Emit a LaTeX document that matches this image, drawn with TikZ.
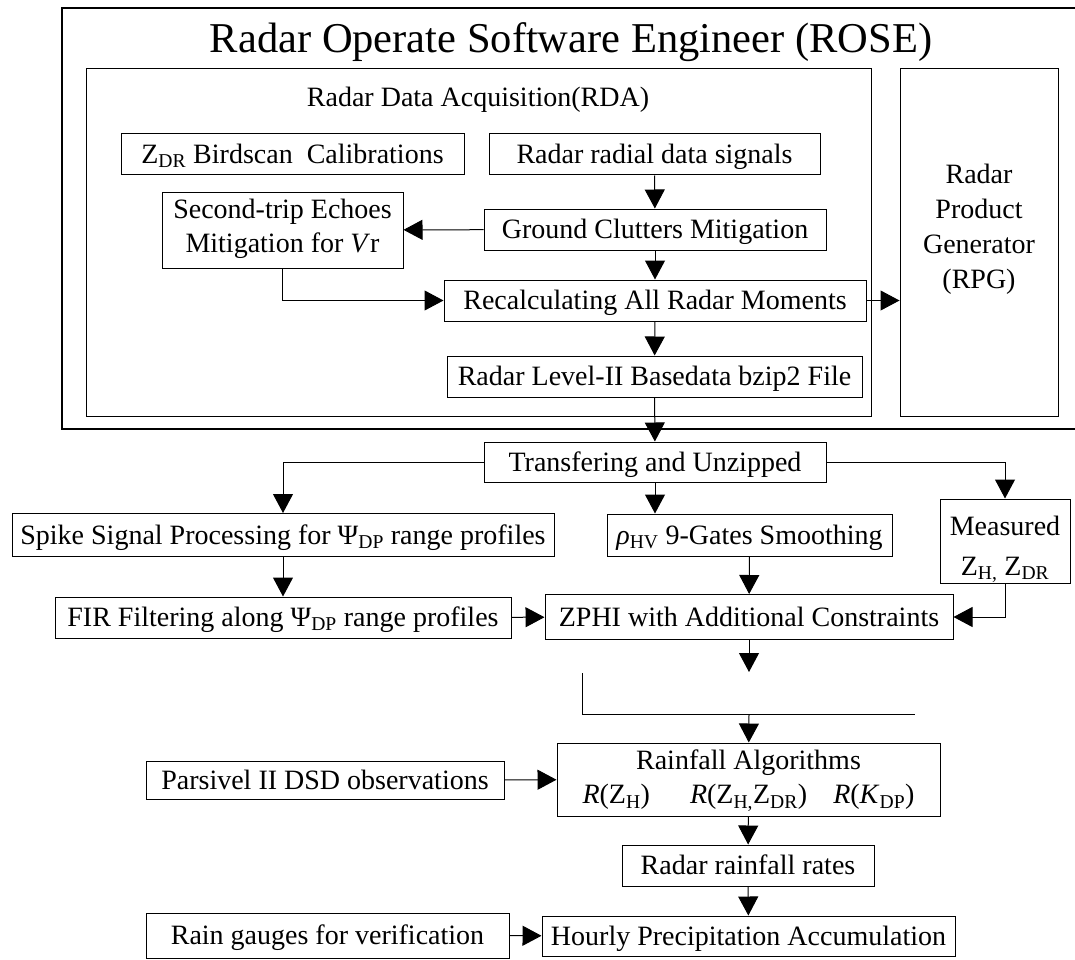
\documentclass[tikz,border=0pt]{standalone}
\usepackage{fontspec}
\setmainfont{Liberation Serif}
\usetikzlibrary{arrows.meta}

% fixed line height so that every box centres its caps
\newcommand{\rowstrut}{\rule[-8pt]{0pt}{34pt}}

\begin{document}
\begin{tikzpicture}[x=1pt,y=-1pt,>={Triangle[length=19pt,width=20pt]},
  txt/.style={inner sep=0pt,align=center,font=\fontsize{28}{34.5}\selectfont,
    execute at begin node=\rowstrut,execute at end node=\rowstrut},
  blk/.style={txt,draw,line width=1pt},
  link/.style={line width=1pt,->}]
  \useasboundingbox (0,0) rectangle (1075,960);
  % ROSE frame with the RDA and RPG panels
  \draw[line width=1.2pt] (1090,8) -- (62,8) -- (62,429) -- (1090,429);
  \node[inner sep=0pt,font=\fontsize{42.5}{50}\selectfont] (rose) at (571,42) {Radar Operate Software Engineer (ROSE)};
  \draw[line width=1pt] (86,69) rectangle (871,416);
  \node[txt] (rda) at (478,98) {Radar Data Acquisition(RDA)};
  \node[draw,line width=1pt,minimum width=158,minimum height=347] (rpg) at (979,242.5) {};
  \node[txt,font=\fontsize{28}{35}\selectfont] at (979,230) {Radar\\Product\\Generator\\(RPG)};

  % blocks inside RDA
  \node[blk,minimum width=343,minimum height=41] (zdr) at (292.5,154.5) {Z\textsubscript{DR} Birdscan~~Calibrations};
  \node[blk,minimum width=331,minimum height=41] (radial) at (654.5,154.5) {Radar radial data signals};
  \node[blk,minimum width=241,minimum height=76] (second) at (282.5,230) {Second-trip Echoes\\Mitigation for \textit{V}r};
  \node[blk,minimum width=342,minimum height=41] (ground) at (655,229.5) {Ground Clutters Mitigation};
  \node[blk,minimum width=422,minimum height=41] (recalc) at (655,300.5) {Recalculating All Radar Moments};
  \node[blk,minimum width=415,minimum height=41] (level) at (654.5,376.5) {Radar Level-II Basedata bzip2 File};

  % processing chain
  \node[blk,minimum width=342,minimum height=40] (unzip) at (655,462) {Transfering and Unzipped};
  \node[blk,minimum width=542,minimum height=43] (spike) at (283,535) {Spike Signal Processing for Ψ\textsubscript{DP} range profiles};
  \node[blk,minimum width=285,minimum height=42] (rho) at (749.5,535) {\textit{ρ}\textsubscript{HV} 9-Gates Smoothing};
  \node[blk,minimum width=130,minimum height=84] (meas) at (1005,541) {\rule{0pt}{36pt}Measured\\[5.5pt]Z\textsubscript{H,} Z\textsubscript{DR}};
  \node[blk,minimum width=456,minimum height=41] (fir) at (283,617.5) {FIR Filtering along Ψ\textsubscript{DP} range profiles};
  \node[blk,minimum width=408,minimum height=45] (zphi) at (749,617) {ZPHI with Additional Constraints};
  \node[blk,minimum width=383,minimum height=73] (rain) at (748.5,779.5) {\rule{0pt}{22pt}Rainfall Algorithms\\
    \textit{R}(Z\textsubscript{H})\hspace{40pt}\textit{R}(Z\textsubscript{H,}Z\textsubscript{DR})\hspace{26pt}\textit{R}(\textit{K}\textsubscript{DP})};
  \node[blk,minimum width=358,minimum height=38] (dsd) at (325,780) {Parsivel II DSD observations};
  \node[blk,minimum width=252,minimum height=41] (rates) at (748,865.5) {Radar rainfall rates};
  \node[blk,minimum width=413,minimum height=40] (hourly) at (748.5,936) {Hourly Precipitation Accumulation};
  \node[blk,minimum width=363,minimum height=45] (gauge) at (327.5,935.5) {Rain gauges for verification};

  \coordinate (zend) at (749,672);
  \coordinate (rtop) at (749,714);

  % connectors
  \draw[link] (radial) -- (ground);
  \draw[link] (ground) -- (second);
  \draw[link] (ground) -- (recalc);
  \draw[link] (second.south) |- (recalc.west);
  \draw[link] (recalc.east) -- (recalc.east -| rpg.west);
  \draw[link] (recalc) -- (level);
  \draw[link] (level) -- (unzip);
  \draw[link] (unzip.west) -| (spike.north);
  \draw[link] (unzip.east) -| (meas.north);
  \draw[link] (unzip.south) -- (unzip.south |- rho.north);
  \draw[link] (spike) -- (fir);
  \draw[link] (rho) -- (zphi);
  \draw[link] (fir) -- (zphi);
  \draw[link] (meas.south) |- (zphi.east);
  \draw[link] (zphi) -- (zend);
  \draw[line width=1pt] (582,673) -- (582,714) -- (915,714);
  \draw[link] (rtop) -- (rain);
  \draw[link] (dsd) -- (rain);
  \draw[link] (rain) -- (rates);
  \draw[link] (rates) -- (hourly);
  \draw[link] (gauge) -- (hourly);
\end{tikzpicture}
\end{document}
